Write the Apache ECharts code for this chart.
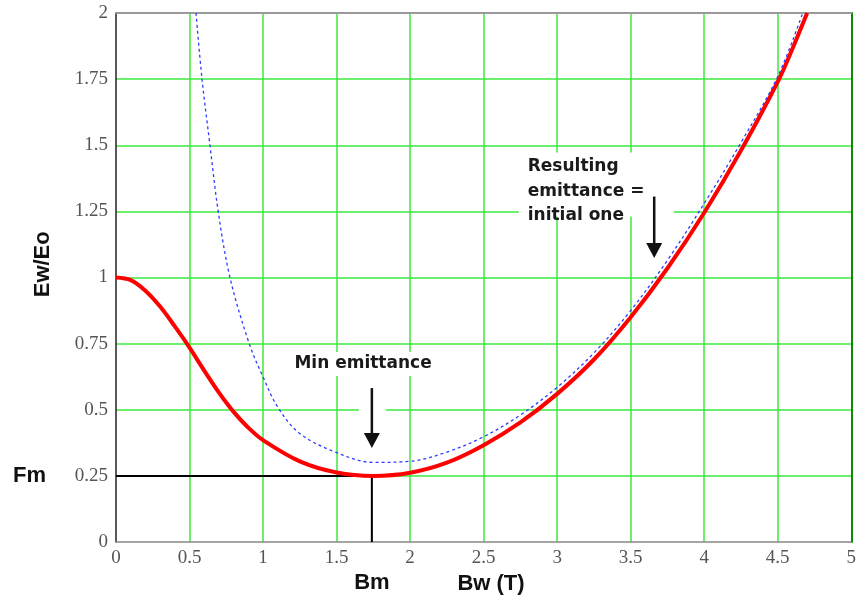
<!DOCTYPE html>
<html>
<head>
<meta charset="utf-8">
<script src="https://cdn.jsdelivr.net/npm/echarts@6/dist/echarts.min.js"></script>
<style>html,body{margin:0;padding:0;background:#fff;}#c{width:859px;height:600px;}</style>
</head>
<body>
<div id="c"></div>
<script>
// Red curve: resulting emittance Ew/Eo vs Bw (T)
const redX = [0, 0.1, 0.2, 0.3, 0.4, 0.5, 0.6, 0.7, 0.8, 0.9, 1.0, 1.25, 1.5, 1.75, 2.0, 2.25, 2.5, 2.75, 3.0, 3.25, 3.5, 3.75, 4.0, 4.25, 4.5, 4.6, 4.70];
const redY = [1.0, 0.99, 0.95, 0.89, 0.815, 0.735, 0.648, 0.565, 0.492, 0.432, 0.385, 0.305, 0.263, 0.25, 0.262, 0.30, 0.366, 0.452, 0.56, 0.69, 0.85, 1.035, 1.245, 1.48, 1.74, 1.865, 2.0];
// Blue dashed curve
const blueX = [0.544, 0.585, 0.639, 0.695, 0.775, 0.906, 1.0, 1.1, 1.25, 1.5, 1.75, 2.0, 2.25, 2.5, 2.75, 3.0, 3.25, 3.5, 3.75, 4.0, 4.25, 4.5, 4.67];
const blueY = [2.0, 1.75, 1.5, 1.25, 1.0, 0.75, 0.624, 0.51, 0.41, 0.338, 0.301, 0.305, 0.34, 0.398, 0.48, 0.585, 0.715, 0.875, 1.065, 1.28, 1.51, 1.76, 2.0];
// Minimum point
const Bm = 1.74;
const Fm = 0.25;
const xTickStep = 0.5, yTickStep = 0.25;

const zip = (xs, ys) => xs.map((x, i) => [x, ys[i]]);
const chart = echarts.init(document.getElementById('c'), null, {renderer: 'canvas'});
const gridGreen = '#3ce83c';
const tickFont = {fontFamily: 'Liberation Serif', fontSize: 19, color: '#555'};

chart.setOption({
  animation: false,
  backgroundColor: '#fff',
  grid: {left: 116, right: 5, top: 13, bottom: 58, containLabel: false},
  xAxis: [{
    type: 'value', min: 0, max: 5, interval: xTickStep, position: 'bottom',
    axisLine: {show: true, onZero: false, lineStyle: {color: '#888', width: 1.5}},
    axisTick: {show: false},
    axisLabel: Object.assign({margin: 7}, tickFont),
    splitLine: {show: true, showMinLine: false, showMaxLine: false, lineStyle: {color: gridGreen, width: 1.5}}
  }, {
    type: 'value', min: 0, max: 5, position: 'top',
    axisLine: {show: true, onZero: false, lineStyle: {color: '#999', width: 2}},
    axisTick: {show: false}, axisLabel: {show: false}, splitLine: {show: false}
  }],
  yAxis: [{
    type: 'value', min: 0, max: 2, interval: yTickStep, position: 'left',
    axisLine: {show: true, onZero: false, lineStyle: {color: '#222', width: 1.5}},
    axisTick: {show: false},
    axisLabel: Object.assign({margin: 8}, tickFont),
    splitLine: {show: true, showMinLine: false, showMaxLine: false, lineStyle: {color: gridGreen, width: 1.5}}
  }, {
    type: 'value', min: 0, max: 2, position: 'right',
    axisLine: {show: true, onZero: false, lineStyle: {color: '#0a8a0a', width: 2}},
    axisTick: {show: false}, axisLabel: {show: false}, splitLine: {show: false}
  }],
  series: [{
    type: 'line', data: [[0, Fm], [Bm, Fm], [Bm, 0]],
    showSymbol: false, lineStyle: {color: '#000', width: 2}, z: 2, silent: true
  }, {
    type: 'line', data: zip(redX, redY), showSymbol: false, smooth: 0.35,
    lineStyle: {color: '#ff0000', width: 4}, z: 3, clip: true
  }, {
    type: 'line', data: zip(blueX, blueY), showSymbol: false, smooth: 0.35,
    lineStyle: {color: '#2e3cff', width: 1.3, type: [3, 3]}, z: 4, clip: true
  }]
});

const P = (x, y) => chart.convertToPixel({xAxisIndex: 0, yAxisIndex: 0}, [x, y]);
const boldTxt = (text, x, y, size, align, vAlign, extra) => Object.assign({
  type: 'text', x: x, y: y, z: 100,
  style: {text: text, font: 'bold ' + size + 'px "DejaVu Sans"', fill: '#1a1a1a',
          align: align, textAlign: align, verticalAlign: vAlign, textVerticalAlign: vAlign}
}, extra || {});
const arialTxt = (text, x, y, align, extra) => Object.assign({
  type: 'text', x: x, y: y, z: 100,
  style: {text: text, font: 'bold 22px "Liberation Sans"', fill: '#111',
          align: align, textAlign: align, verticalAlign: 'middle', textVerticalAlign: 'middle'}
}, extra || {});
const arrow = (x, y1, y2) => [
  {type: 'line', z: 100, shape: {x1: x, y1: y1, x2: x, y2: y2 - 12}, style: {stroke: '#111', lineWidth: 2.5}},
  {type: 'polygon', z: 100, shape: {points: [[x - 8, y2 - 15], [x + 8, y2 - 15], [x, y2]]}, style: {fill: '#111'}}
];

const pBm = P(Bm, Fm);
const p0 = P(0, 0);
const pMinTxt = P(1.68, 0.673);
const pMinA1 = P(Bm, 0.582), pMinA2 = P(Bm, 0.355);
const pResTxt = P(2.80, 1.42);
const pResA1 = P(3.66, 1.306), pResA2 = P(3.66, 1.074);

const g = [];
// white backgrounds
g.push({type: 'rect', z: 99, shape: {x: pMinTxt[0] - 76, y: pMinTxt[1] - 12, width: 152, height: 24}, style: {fill: '#fff'}});
g.push({type: 'rect', z: 99, shape: {x: pMinA1[0] - 13, y: pMinA1[1] - 6, width: 27, height: pMinA2[1] - pMinA1[1] + 2}, style: {fill: '#fff'}});
g.push({type: 'rect', z: 99, shape: {x: pResTxt[0] - 9, y: pResTxt[1] - 14, width: 155, height: 64}, style: {fill: '#fff'}});
g.push({type: 'rect', z: 99, shape: {x: pResA1[0] - 13, y: pResA1[1], width: 27, height: pResA2[1] - pResA1[1] - 4}, style: {fill: '#fff'}});
g.push(boldTxt('Min emittance', pMinTxt[0], pMinTxt[1], 17, 'center', 'middle'));
g.push(...arrow(pMinA1[0], pMinA1[1], pMinA2[1]));
g.push(boldTxt('Resulting', pResTxt[0], pResTxt[1], 17, 'left', 'middle'));
g.push(boldTxt('emittance =', pResTxt[0], pResTxt[1] + 25, 17, 'left', 'middle'));
g.push(boldTxt('initial one', pResTxt[0], pResTxt[1] + 49, 17, 'left', 'middle'));
g.push(...arrow(pResA1[0], pResA1[1], pResA2[1]));
// axis-related labels
g.push(arialTxt('Fm', 13, pBm[1], 'left'));
g.push(arialTxt('Bm', pBm[0], p0[1] + 41, 'center'));
g.push(arialTxt('Bw (T)', P(2.55, 0)[0], p0[1] + 42, 'center'));
g.push(arialTxt('Ew/Eo', 43, (P(0, 1.05)[1]), 'center', {rotation: Math.PI / 2}));

chart.setOption({graphic: g});
</script>
</body>
</html>
